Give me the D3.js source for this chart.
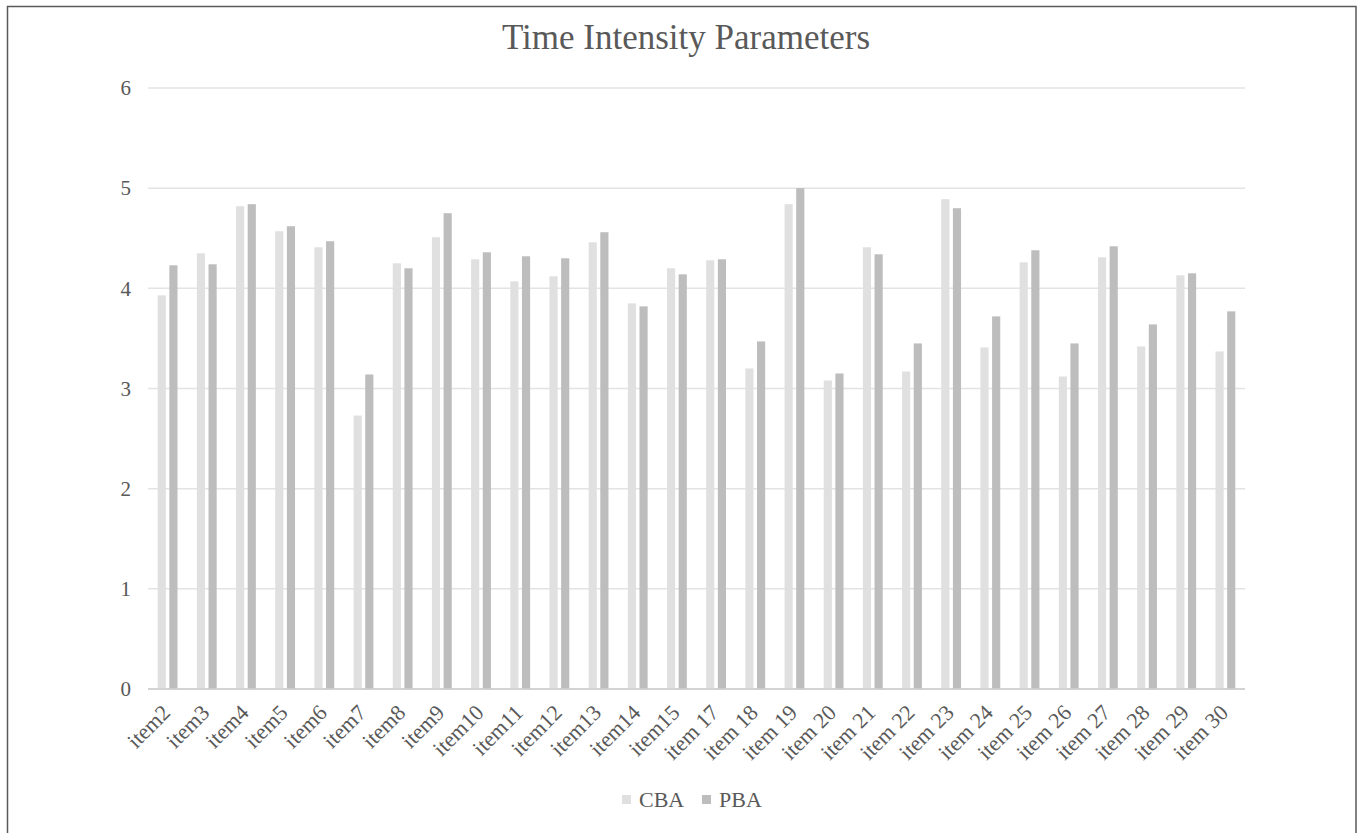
<!DOCTYPE html>
<html><head><meta charset="utf-8">
<script src="https://cdn.jsdelivr.net/npm/d3@7"></script>
<style>body{margin:0;background:#fff;} svg{display:block;}</style>
</head><body>
<svg id="chart" width="1360" height="833"></svg>
<script>
const categories = ["item2","item3","item4","item5","item6","item7","item8","item9","item10","item11","item12","item13","item14","item15","item 17","item 18","item 19","item 20","item 21","item 22","item 23","item 24","item 25","item 26","item 27","item 28","item 29","item 30"];
const cba = [3.93,4.35,4.82,4.57,4.41,2.73,4.25,4.51,4.29,4.07,4.12,4.46,3.85,4.20,4.28,3.20,4.84,3.08,4.41,3.17,4.89,3.41,4.26,3.12,4.31,3.42,4.13,3.37];
const pba = [4.23,4.24,4.84,4.62,4.47,3.14,4.20,4.75,4.36,4.32,4.30,4.56,3.82,4.14,4.29,3.47,5.00,3.15,4.34,3.45,4.80,3.72,4.38,3.45,4.42,3.64,4.15,3.77];
const seriesNames = ["CBA","PBA"];
const yTicks = [0,1,2,3,4,5,6];
const chartTitle = "Time Intensity Parameters";

(function(){
const svg = d3.select("#chart");
const font = "'Liberation Serif','Times New Roman',serif";
const textColor = "#595959";
const colors = ["#e0e0e0","#bdbdbd"];

// frame
svg.append("rect").attr("x",7.5).attr("y",6.5).attr("width",1348.5).attr("height",840)
  .attr("fill","none").attr("stroke","#5a5a5a").attr("stroke-width",1.5);

const pl=148, pr=1245, pt=88, pb=689;
const x = d3.scaleBand().domain(categories).range([pl,pr]).paddingInner(0).paddingOuter(0);
const y = d3.scaleLinear().domain([0,6]).range([pb,pt]);

// grid
svg.append("g").selectAll("line").data(yTicks).join("line")
  .attr("x1",pl).attr("x2",pr)
  .attr("y1",d=>y(d)).attr("y2",d=>y(d))
  .attr("stroke",d=>d===0?"#d0d0d0":"#e3e3e3").attr("stroke-width",1.5);

// y axis labels
const yAxis = d3.axisLeft(y).tickValues(yTicks).tickSize(0).tickPadding(0).tickFormat(d3.format("d"));
const gy = svg.append("g").attr("transform",`translate(${pl-17},0)`).call(yAxis);
gy.select(".domain").remove();
gy.selectAll("text").attr("font-family",font).attr("font-size",21).attr("fill",textColor);

// bars
const inner = d3.scaleBand().domain(seriesNames).range([0,x.bandwidth()]).paddingInner(0.3).paddingOuter(0.83);
const data = categories.map((c,i)=>({c, vals:[cba[i],pba[i]]}));
const groups = svg.append("g").selectAll("g").data(data).join("g")
  .attr("transform",d=>`translate(${x(d.c)},0)`);
groups.selectAll("rect").data(d=>d.vals.map((v,j)=>({s:seriesNames[j],v,j}))).join("rect")
  .attr("x",d=>inner(d.s)).attr("width",inner.bandwidth())
  .attr("y",d=>y(d.v)).attr("height",d=>y(0)-y(d.v))
  .attr("fill",d=>colors[d.j]);

// baseline over bars
svg.append("line").attr("x1",pl).attr("x2",pr).attr("y1",y(0)).attr("y2",y(0))
  .attr("stroke","#d0d0d0").attr("stroke-width",1.5);

// x axis labels
const xAxis = d3.axisBottom(x).tickSize(0).tickPadding(0);
const gx = svg.append("g").attr("transform",`translate(0,${pb})`).call(xAxis);
gx.select(".domain").remove();
gx.selectAll("text")
  .attr("font-family",font).attr("font-size",22).attr("fill",textColor)
  .attr("text-anchor","end").attr("dy",0)
  .attr("transform","translate(4,25) rotate(-45)");

// title
svg.append("text").attr("x",686).attr("y",49).attr("text-anchor","middle")
  .attr("font-family",font).attr("font-size",35).attr("fill",textColor).text(chartTitle);

// legend
const leg = svg.append("g").attr("transform","translate(0,800)");
const legX = [622,702];
seriesNames.forEach((s,i)=>{
  leg.append("rect").attr("x",legX[i]).attr("y",-5).attr("width",9).attr("height",9).attr("fill",colors[i]);
  leg.append("text").attr("x",legX[i]+17).attr("y",7).attr("font-family",font).attr("font-size",22)
    .attr("fill",textColor).text(s);
});
})();
</script>
</body></html>
